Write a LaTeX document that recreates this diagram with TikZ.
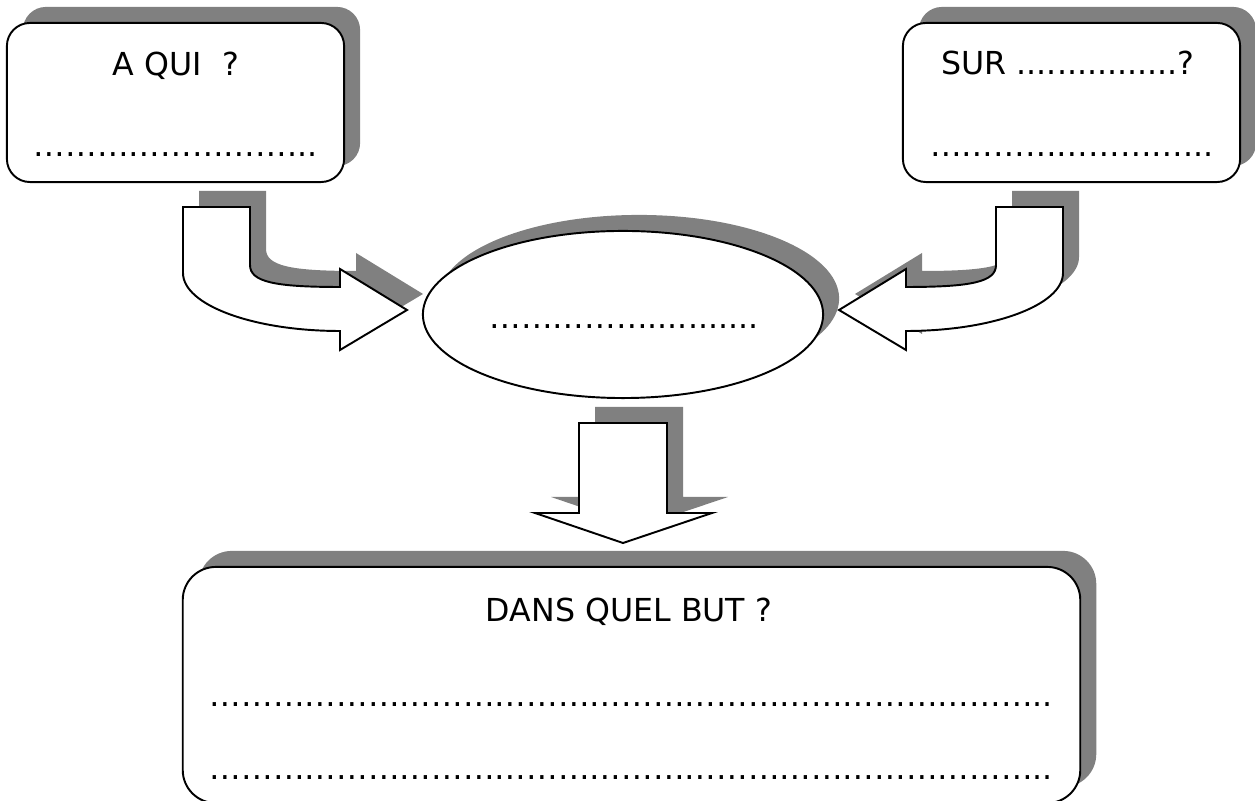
\documentclass[tikz,border=0pt]{standalone}
\usepackage{fontspec}
\setmainfont{DejaVu Sans}
\usepackage{tikz}
\usetikzlibrary{
shadows,
shapes.geometric
}
\definecolor{shadowgray}{HTML}{808080}
\tikzset{>=latex}
\tikzset{
	grayshadow/.style={drop shadow={shadow xshift=.16cm, shadow yshift=.16cm, fill=shadowgray, opacity=1}},
	roundbox/.style={draw, fill=white, line width=.55pt, inner sep=0pt, rounded corners=.23cm, grayshadow},
	blockarrow/.style={draw, fill=white, line width=.55pt, line join=miter, grayshadow},
	label/.style={anchor=base, inner sep=0pt}
}

\begin{document}
\begin{tikzpicture}[x=.01cm, y=-.01cm, font=\fontsize{9}{11}\selectfont]
		\useasboundingbox (0,0) rectangle (1255,801);
		\clip (0,0) rectangle (1255,801);
		
		\path[blockarrow] (183,207) -- (250,207) -- (250,265) .. controls (250,282) and (275,287) .. (340,287) -- (340,269) -- (407,310) -- (340,350) -- (340,331) .. controls (253,331) and (183,305) .. (183,273) -- cycle;
		\path[blockarrow] (1063,207) -- (996,207) -- (996,265) .. controls (996,282) and (971,287) .. (906,287) -- (906,269) -- (839,310) -- (906,350) -- (906,331) .. controls (993,331) and (1063,305) .. (1063,273) -- cycle;
		\path[blockarrow] (579,423) -- (667,423) -- (667,513) -- (712,513) -- (623,543) -- (535,513) -- (579,513) -- cycle;
		
		\node[roundbox, minimum width=3.37cm, minimum height=1.59cm] (aqui) at (175.5,102.5) {};
		\node[roundbox, minimum width=3.37cm, minimum height=1.59cm] (sur) at (1071.5,102.5) {};
		\node[draw, fill=white, line width=.55pt, ellipse, inner sep=0pt, minimum width=4cm, minimum height=1.67cm, grayshadow] (centre) at (623,314.5) {};
		\node[roundbox, rounded corners=.33cm, minimum width=8.97cm, minimum height=2.36cm] (but) at (631.5,685) {};
		
		\node[label] (aquititle) at (176,76)    {A QUI~ ?};
		\node[label] (aquidots)  at (175.5,157) {……………………...};
		\node[label] (surtitle)  at (1068,75)   {SUR ................?};
		\node[label] (surdots)   at (1072,157)  {……………………...};
		\node[label] (centredots) at (624,329)  {……………...........};
		\node[label] (buttitle)  at (629,622)   {DANS QUEL BUT ?};
		\node[label] (butdotsa)  at (631.5,706) {……………………………………………………………………..};
		\node[label] (butdotsb)  at (631.5,780) {……………………………………………………………………..};
	\end{tikzpicture}
\end{document}
